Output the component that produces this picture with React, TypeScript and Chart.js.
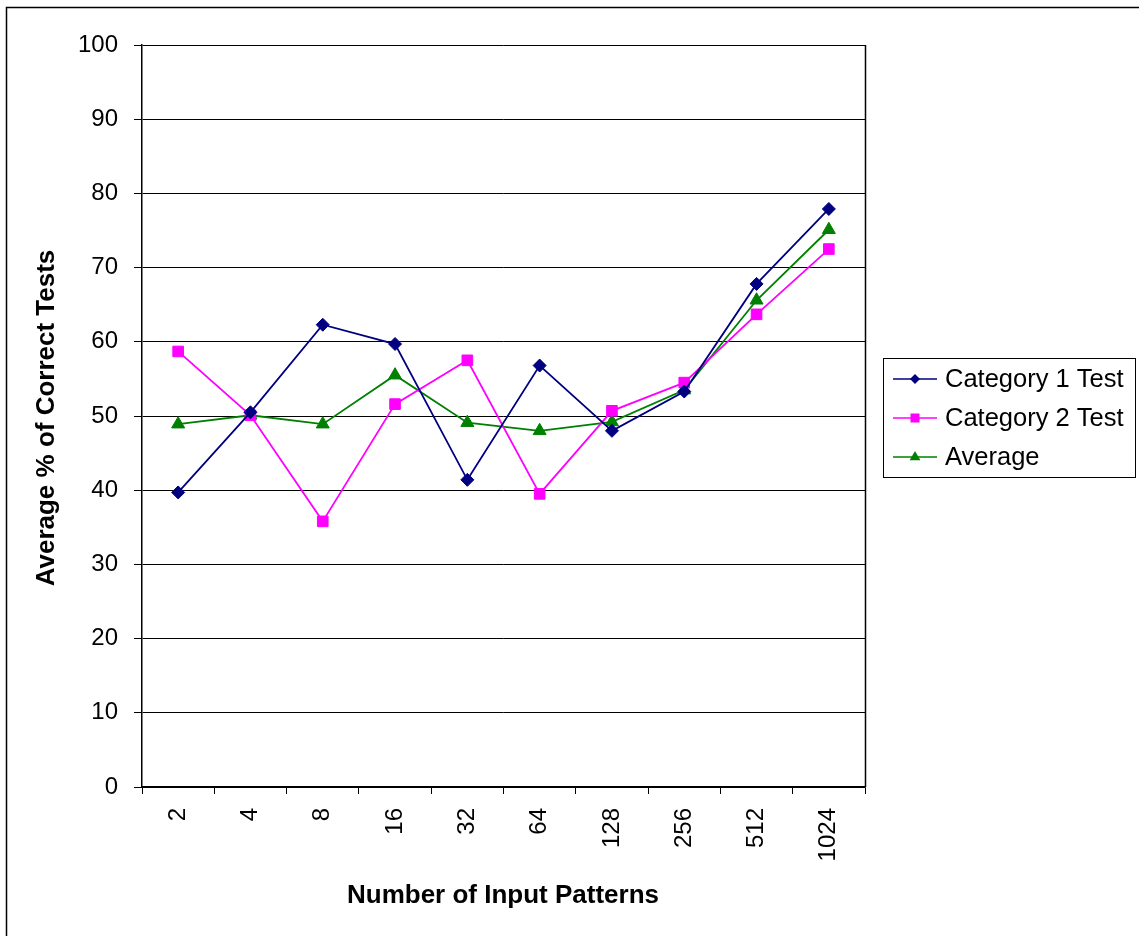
import React, { useEffect, useRef } from "react";
import { Chart, registerables } from "chart.js";

Chart.register(...registerables);

const patternCounts = ["2", "4", "8", "16", "32", "64", "128", "256", "512", "1024"];
const category1Test = [39.7, 50.5, 62.3, 59.7, 41.4, 56.8, 48.0, 53.3, 67.8, 77.9];
const category2Test = [58.7, 50.1, 35.8, 51.6, 57.5, 39.5, 50.7, 54.5, 63.7, 72.5];
const averageTest = [48.9, 50.1, 48.9, 55.5, 49.1, 48.0, 49.2, 53.5, 65.6, 75.1];

const seriesNames = ["Category 1 Test", "Category 2 Test", "Average"];
const seriesColors = ["#000080", "#FF00FF", "#008000"];
const seriesMarkers = ["rectRot", "rect", "triangle"] as const;
const seriesRadius = [6.5, 7.5, 7.5];

const FONT = 'Arial, "Liberation Sans", sans-serif';

// small legend glyphs, drawn by hand
function drawGlyph(ctx: CanvasRenderingContext2D, kind: string, x: number, y: number, color: string) {
  ctx.fillStyle = color;
  ctx.beginPath();
  if (kind === "rectRot") {
    const r = 5;
    ctx.moveTo(x, y - r);
    ctx.lineTo(x + r, y);
    ctx.lineTo(x, y + r);
    ctx.lineTo(x - r, y);
  } else if (kind === "rect") {
    const s = 4.5;
    ctx.rect(x - s, y - s, 2 * s, 2 * s);
  } else {
    const r = 6;
    ctx.moveTo(x, y - r);
    ctx.lineTo(x + r * 0.9, y + r * 0.55);
    ctx.lineTo(x - r * 0.9, y + r * 0.55);
  }
  ctx.closePath();
  ctx.fill();
}

const decorPlugin = {
  id: "decor",
  beforeDraw(chart: any) {
    const { ctx, width, height } = chart;
    ctx.save();
    ctx.fillStyle = "#ffffff";
    ctx.fillRect(0, 0, width, height);
    ctx.restore();
  },
  afterDraw(chart: any) {
    const { ctx, chartArea } = chart;
    ctx.save();
    // outer frame (left and top edges visible)
    ctx.strokeStyle = "#000";
    ctx.lineWidth = 1.5;
    ctx.beginPath();
    ctx.moveTo(6.5, 1000);
    ctx.lineTo(6.5, 7.5);
    ctx.lineTo(1200, 7.5);
    ctx.stroke();

    // right edge of the plot area
    ctx.beginPath();
    ctx.moveTo(Math.round(chartArea.right) + 0.5, chartArea.top);
    ctx.lineTo(Math.round(chartArea.right) + 0.5, chartArea.bottom);
    ctx.stroke();

    // axis titles
    ctx.fillStyle = "#000";
    ctx.font = `bold 26px ${FONT}`;
    ctx.textAlign = "center";
    ctx.textBaseline = "middle";
    ctx.fillText("Number of Input Patterns", 503, 896);
    ctx.save();
    ctx.translate(47, 418);
    ctx.rotate(-Math.PI / 2);
    ctx.fillText("Average % of Correct Tests", 0, 0);
    ctx.restore();

    // legend
    ctx.lineWidth = 1;
    ctx.strokeStyle = "#000";
    ctx.strokeRect(883.5, 358.5, 252, 119);
    ctx.font = `25.5px ${FONT}`;
    ctx.textAlign = "left";
    const rows = [379, 418, 457];
    seriesNames.forEach((name, i) => {
      const y = rows[i];
      ctx.strokeStyle = seriesColors[i];
      ctx.lineWidth = 1.5;
      ctx.beginPath();
      ctx.moveTo(893, y);
      ctx.lineTo(937, y);
      ctx.stroke();
      drawGlyph(ctx, seriesMarkers[i], 915, y, seriesColors[i]);
      ctx.fillStyle = "#000";
      ctx.fillText(name, 945, y + 1);
    });
    ctx.restore();
  },
};

export default function App() {
  const canvasRef = useRef<HTMLCanvasElement | null>(null);

  useEffect(() => {
    if (!canvasRef.current) return;
    const datasets = [category1Test, category2Test, averageTest].map((values, i) => ({
      label: seriesNames[i],
      data: values,
      borderColor: seriesColors[i],
      backgroundColor: seriesColors[i],
      borderWidth: 1.8,
      pointStyle: seriesMarkers[i],
      pointRadius: seriesRadius[i],
      pointBorderWidth: 1,
      pointBorderColor: seriesColors[i],
      pointBackgroundColor: seriesColors[i],
      tension: 0,
    }));

    const chart = new Chart(canvasRef.current, {
      type: "line",
      data: { labels: patternCounts, datasets },
      options: {
        animation: false,
        responsive: false,
        layout: { padding: { top: 45, right: 274, left: 0, bottom: 0 } },
        plugins: {
          legend: { display: false },
          tooltip: { enabled: false },
        },
        scales: {
          x: {
            type: "category",
            offset: true,
            grid: {
              offset: true,
              drawOnChartArea: false,
              drawTicks: true,
              tickLength: 7,
              color: "#000",
              lineWidth: 1,
            },
            border: { display: true, color: "#000", width: 1.5 },
            ticks: {
              minRotation: 90,
              maxRotation: 90,
              autoSkip: false,
              padding: 14,
              color: "#000",
              font: { family: FONT, size: 24 },
            },
            afterFit: (scale: any) => {
              scale.height = 149;
            },
          },
          y: {
            min: 0,
            max: 100,
            ticks: {
              stepSize: 10,
              padding: 16,
              color: "#000",
              font: { family: FONT, size: 24 },
            },
            grid: {
              color: "#000",
              lineWidth: 1,
              drawTicks: true,
              tickLength: 8,
            },
            border: { display: true, color: "#000", width: 1.5 },
            afterFit: (scale: any) => {
              scale.width = 142;
            },
          },
        },
      },
      plugins: [decorPlugin],
    });
    return () => chart.destroy();
  }, []);

  return (
    <div style={{ position: "absolute", left: 0, top: 0, width: 1139, height: 936 }}>
      <canvas ref={canvasRef} width={1139} height={936} style={{ display: "block" }} />
    </div>
  );
}
